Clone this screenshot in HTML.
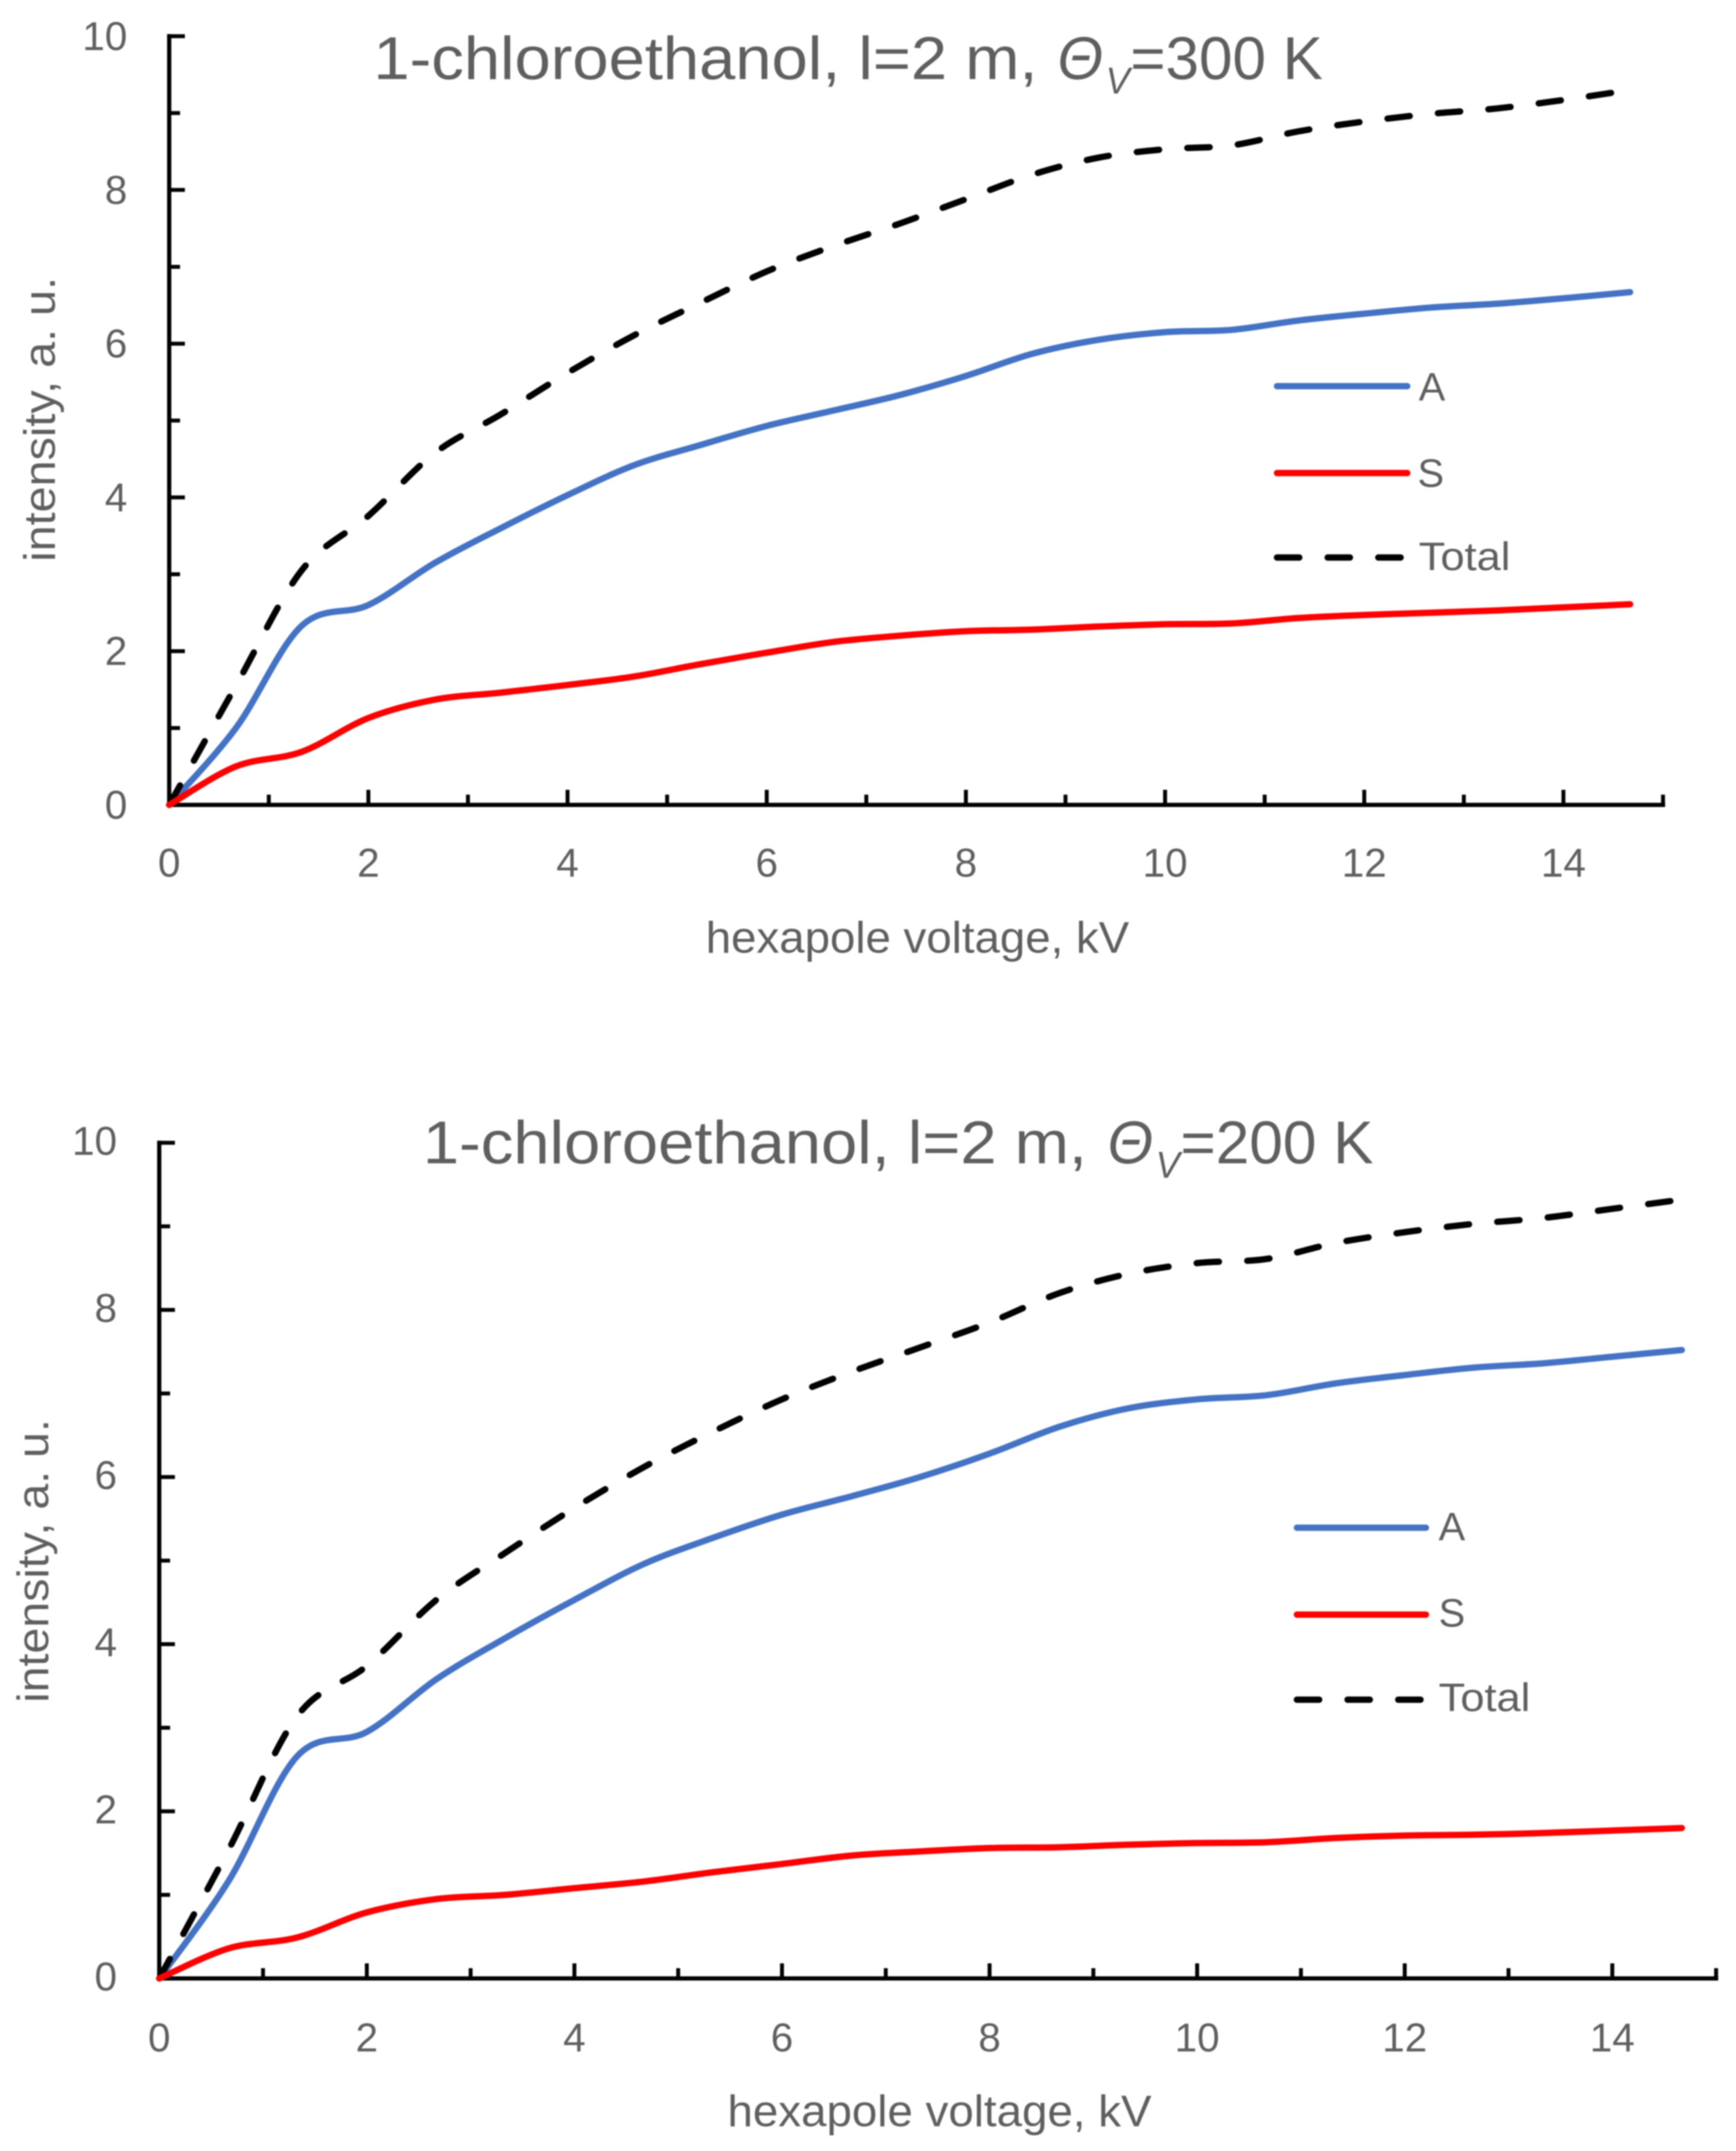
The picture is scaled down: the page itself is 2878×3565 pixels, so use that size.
<!DOCTYPE html>
<html lang="en">
<head>
<meta charset="utf-8">
<title>1-chloroethanol hexapole voltage charts</title>
<style>
html,body{margin:0;padding:0;background:#fff;}
svg{display:block;filter:blur(1px);}
text{font-family:"Liberation Sans",sans-serif;fill:#5f5f5f;}
.title{font-size:100px;}
.sub{font-size:62px;font-style:italic;}
.ital{font-style:italic;}
.axis-title{font-size:73px;}
.legend-text{font-size:66px;}
.tick-label{font-size:67px;}
</style>
</head>
<body>
<svg id="root" xmlns="http://www.w3.org/2000/svg" width="2878" height="3565" viewBox="0 0 2878 3565">
  <rect x="0" y="0" width="2878" height="3565" fill="#ffffff"/>

  <g id="chart-top">
    <g>
      <text class="title" x="619" y="131" textLength="1101" lengthAdjust="spacingAndGlyphs">1-chloroethanol, l=2 m,</text>
      <text class="title ital" x="1753" y="131" textLength="76" lengthAdjust="spacingAndGlyphs">Θ</text>
      <text class="sub" x="1833" y="155" textLength="40" lengthAdjust="spacingAndGlyphs">V</text>
      <text class="title" x="1874" y="131" textLength="319" lengthAdjust="spacingAndGlyphs">=300 K</text>
    </g>
    <text class="axis-title" x="1170" y="1579" textLength="702" lengthAdjust="spacingAndGlyphs">hexapole voltage, kV</text>
    <text class="axis-title" transform="translate(91,931) rotate(-90)" x="0" y="0" textLength="472" lengthAdjust="spacingAndGlyphs">intensity, a. u.</text>
    <text class="legend-text" x="2352" y="664">A</text>
    <text class="legend-text" x="2350" y="807">S</text>
    <text class="legend-text" x="2352" y="945" textLength="152" lengthAdjust="spacingAndGlyphs">Total</text>
  </g>

  <g id="chart-bottom">
    <g>
      <text class="title" x="701" y="1928" textLength="1101" lengthAdjust="spacingAndGlyphs">1-chloroethanol, l=2 m,</text>
      <text class="title ital" x="1836" y="1928" textLength="76" lengthAdjust="spacingAndGlyphs">Θ</text>
      <text class="sub" x="1916" y="1952" textLength="40" lengthAdjust="spacingAndGlyphs">V</text>
      <text class="title" x="1957" y="1928" textLength="320" lengthAdjust="spacingAndGlyphs">=200 K</text>
    </g>
    <text class="axis-title" x="1206" y="3524" textLength="703" lengthAdjust="spacingAndGlyphs">hexapole voltage, kV</text>
    <text class="axis-title" transform="translate(80,2822) rotate(-90)" x="0" y="0" textLength="470" lengthAdjust="spacingAndGlyphs">intensity, a. u.</text>
    <text class="legend-text" x="2385" y="2553">A</text>
    <text class="legend-text" x="2385" y="2696">S</text>
    <text class="legend-text" x="2385" y="2836" textLength="152" lengthAdjust="spacingAndGlyphs">Total</text>
  </g>
</svg>

<script>
// Data
const voltages = [0, 0.67, 1.33, 2, 2.67, 3.33, 4, 4.67, 5.33, 6, 6.67, 7.33, 8, 8.67, 9.33, 10, 10.67, 11.33, 12, 12.67, 13.33, 14, 14.67];

const seriesA300 = [0, 1.0, 2.33, 2.6, 3.15, 3.6, 4.03, 4.42, 4.68, 4.93, 5.13, 5.33, 5.58, 5.87, 6.05, 6.15, 6.18, 6.3, 6.39, 6.47, 6.52, 6.59, 6.67];
const seriesS300 = [0, 0.5, 0.69, 1.13, 1.37, 1.46, 1.56, 1.67, 1.83, 1.98, 2.12, 2.2, 2.26, 2.28, 2.32, 2.35, 2.36, 2.43, 2.47, 2.5, 2.53, 2.57, 2.61];
const seriesTotal300 = [0, 1.55, 3.05, 3.76, 4.58, 5.08, 5.62, 6.11, 6.53, 6.94, 7.27, 7.56, 7.88, 8.2, 8.42, 8.53, 8.58, 8.76, 8.89, 8.99, 9.06, 9.17, 9.3];

const seriesA200 = [0, 1.17, 2.66, 2.95, 3.58, 4.07, 4.53, 4.96, 5.27, 5.55, 5.77, 6.0, 6.28, 6.6, 6.82, 6.93, 6.98, 7.12, 7.22, 7.31, 7.36, 7.44, 7.52];
const seriesS200 = [0, 0.36, 0.49, 0.79, 0.95, 1.0, 1.08, 1.16, 1.27, 1.37, 1.47, 1.52, 1.56, 1.57, 1.6, 1.62, 1.63, 1.68, 1.71, 1.72, 1.74, 1.77, 1.8];
const seriesTotal200 = [0, 1.545, 3.14, 3.74, 4.53, 5.09, 5.63, 6.12, 6.54, 6.93, 7.26, 7.55, 7.85, 8.2, 8.43, 8.56, 8.61, 8.8, 8.93, 9.03, 9.1, 9.21, 9.32];

const xMajorTicks = [0, 2, 4, 6, 8, 10, 12, 14];
const xMinorTicks = [1, 3, 5, 7, 9, 11, 13, 15];
const yMajorTicks = [0, 2, 4, 6, 8, 10];
const yMinorTicks = [1, 3, 5, 7, 9];
const xMax = 15;
const yMax = 10;

const NS = 'http://www.w3.org/2000/svg';

function make(parent, tag, attrs) {
  const el = document.createElementNS(NS, tag);
  for (const k in attrs) el.setAttribute(k, attrs[k]);
  parent.appendChild(el);
  return el;
}

function smoothPath(xs, ys, sx, sy) {
  const pts = xs.map((x, i) => [sx(x), sy(ys[i])]);
  let d = 'M' + pts[0][0].toFixed(1) + ' ' + pts[0][1].toFixed(1);
  for (let i = 0; i < pts.length - 1; i++) {
    const p0 = pts[Math.max(i - 1, 0)];
    const p1 = pts[i];
    const p2 = pts[i + 1];
    const p3 = pts[Math.min(i + 2, pts.length - 1)];
    const c1x = p1[0] + (p2[0] - p0[0]) / 6;
    const c1y = p1[1] + (p2[1] - p0[1]) / 6;
    const c2x = p2[0] - (p3[0] - p1[0]) / 6;
    const c2y = p2[1] - (p3[1] - p1[1]) / 6;
    d += 'C' + c1x.toFixed(1) + ' ' + c1y.toFixed(1) + ' ' + c2x.toFixed(1) + ' ' + c2y.toFixed(1) + ' ' + p2[0].toFixed(1) + ' ' + p2[1].toFixed(1);
  }
  return d;
}

function drawChart(group, box, a, s, total) {
  const sx = v => box.left + (box.right - box.left) * v / xMax;
  const sy = v => box.bottom - (box.bottom - box.top) * v / yMax;

  const axes = make(group, 'path', {
    d: 'M' + sx(0) + ' ' + sy(yMax) + 'V' + sy(0) + 'H' + sx(xMax),
    fill: 'none', stroke: '#000', 'stroke-width': 7, 'stroke-linecap': 'square'
  });
  
  

  xMajorTicks.forEach(v => {
    const t = make(group, 'line', { x1: sx(v), x2: sx(v), y1: sy(0), y2: sy(0) - 25, stroke: '#000', 'stroke-width': 6.5 });
    
    
    const l = make(group, 'text', { class: 'tick-label', x: sx(v), y: box.xLabelY, 'text-anchor': 'middle' });
    l.textContent = String(v);
    
    
  });
  xMinorTicks.forEach(v => {
    const t = make(group, 'line', { x1: sx(v), x2: sx(v), y1: sy(0), y2: sy(0) - 17, stroke: '#000', 'stroke-width': 6.5 });
    
    
  });
  yMajorTicks.forEach(v => {
    const t = make(group, 'line', { x1: sx(0), x2: sx(0) + 26, y1: sy(v), y2: sy(v), stroke: '#000', 'stroke-width': 6.5 });
    
    
    const l = make(group, 'text', { class: 'tick-label', x: box.yLabelRight, y: sy(v) + box.yLabelShift, 'text-anchor': 'end' });
    l.textContent = String(v);
    
    
  });
  yMinorTicks.forEach(v => {
    const t = make(group, 'line', { x1: sx(0), x2: sx(0) + 18, y1: sy(v), y2: sy(v), stroke: '#000', 'stroke-width': 6.5 });
    
    
  });

  const lineA = make(group, 'path', { d: smoothPath(voltages, a, sx, sy), fill: 'none', stroke: '#4472C4', 'stroke-width': 10.5, 'stroke-linecap': 'round', 'stroke-linejoin': 'round' });
  
  

  const lineTotal = make(group, 'path', { d: smoothPath(voltages, total, sx, sy), fill: 'none', stroke: '#000', 'stroke-width': 10.5, 'stroke-linecap': 'round', 'stroke-linejoin': 'round', 'stroke-dasharray': '37 47' });
  
  

  const lineS = make(group, 'path', { d: smoothPath(voltages, s, sx, sy), fill: 'none', stroke: '#FF0000', 'stroke-width': 10.5, 'stroke-linecap': 'round', 'stroke-linejoin': 'round' });
  
  

  const legA = make(group, 'line', { x1: box.legX1, x2: box.legX2, y1: box.legA, y2: box.legA, stroke: '#4472C4', 'stroke-width': 10.5, 'stroke-linecap': 'round' });
  
  
  const legS = make(group, 'line', { x1: box.legX1, x2: box.legX2, y1: box.legS, y2: box.legS, stroke: '#FF0000', 'stroke-width': 10.5, 'stroke-linecap': 'round' });
  
  
  const legT = make(group, 'line', { x1: box.legX1, x2: box.legX2, y1: box.legT, y2: box.legT, stroke: '#000', 'stroke-width': 10.5, 'stroke-linecap': 'round', 'stroke-dasharray': '37 47' });
  
  
}

drawChart(document.getElementById('chart-top'),
  { left: 280.5, right: 2757, top: 60, bottom: 1334, xLabelY: 1453, yLabelRight: 211, yLabelShift: 23, legX1: 2117, legX2: 2333, legA: 640, legS: 784, legT: 924 },
  seriesA300, seriesS300, seriesTotal300);

drawChart(document.getElementById('chart-bottom'),
  { left: 264, right: 2845, top: 1894, bottom: 3279, xLabelY: 3400, yLabelRight: 194, yLabelShift: 20, legX1: 2150, legX2: 2364, legA: 2532, legS: 2676, legT: 2817 },
  seriesA200, seriesS200, seriesTotal200);
</script>
</body>
</html>
